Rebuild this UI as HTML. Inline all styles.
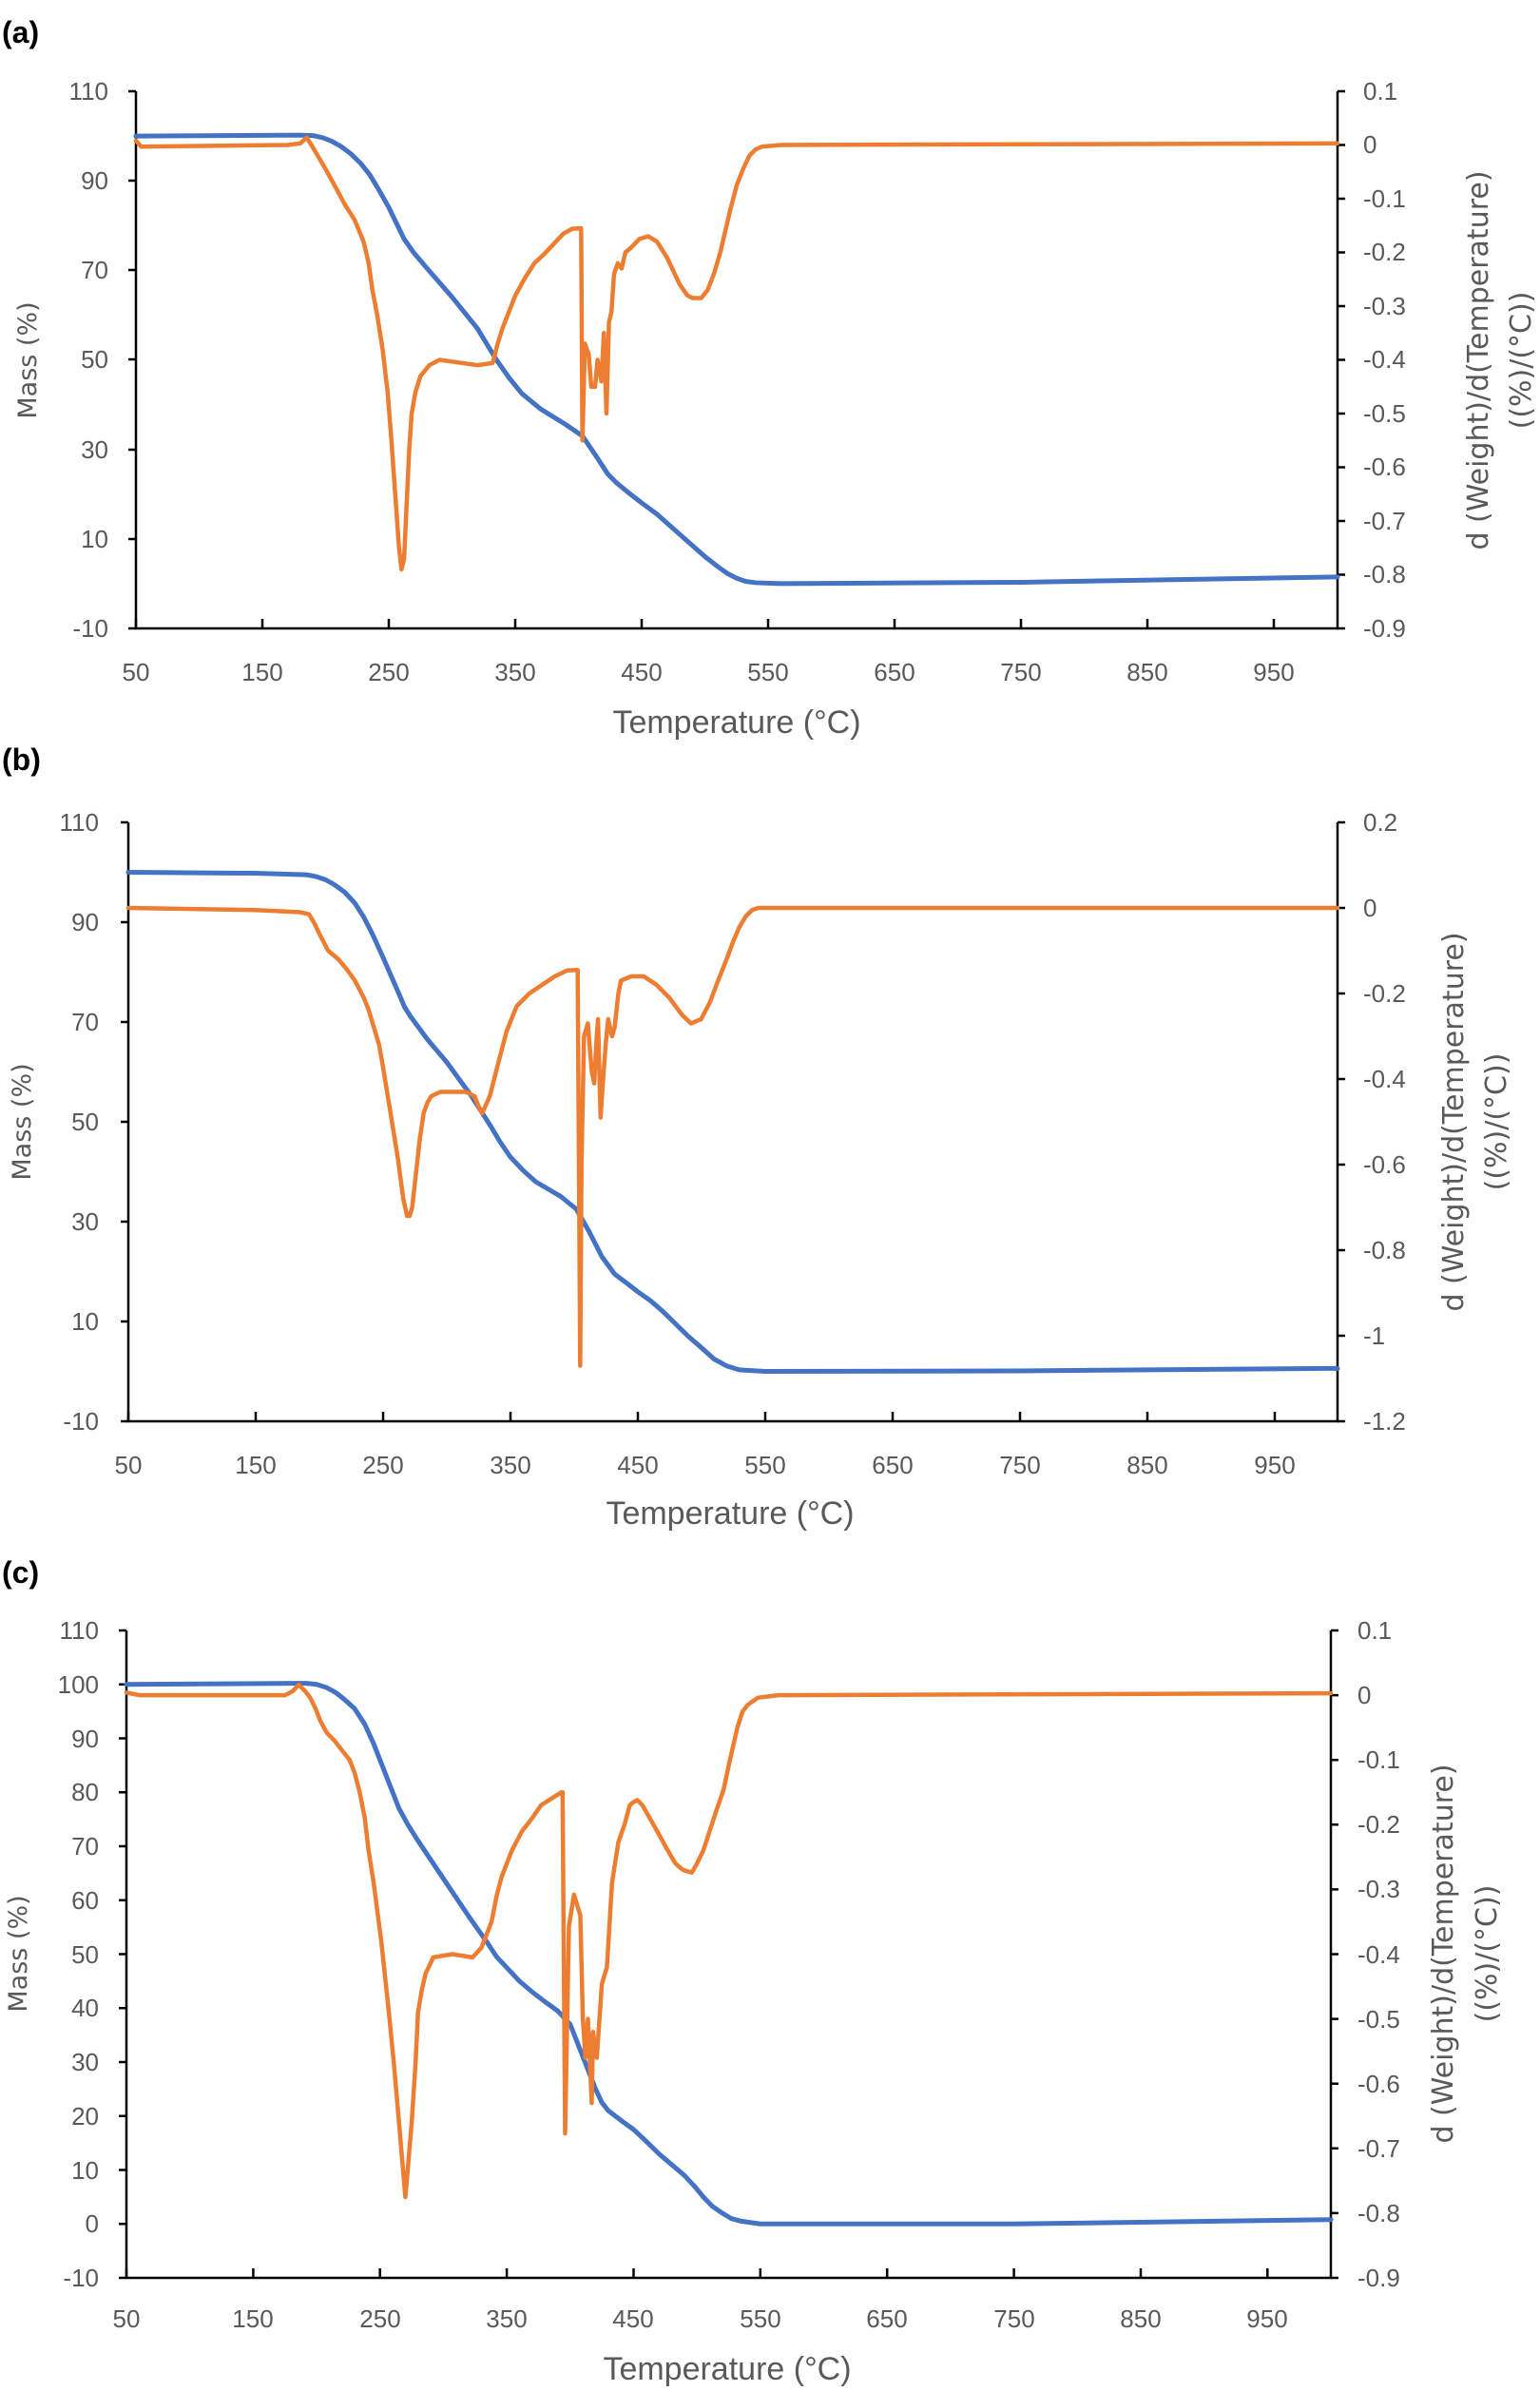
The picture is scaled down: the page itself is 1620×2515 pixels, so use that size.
<!DOCTYPE html>
<html><head><meta charset="utf-8"><style>
html,body{margin:0;padding:0;background:#fff}
svg{display:block}
.t{font-family:"Liberation Sans",sans-serif;font-size:26px;fill:#595959}
.w{font-family:"DejaVu Sans",sans-serif;font-size:27px;fill:#595959}
.r{font-family:"DejaVu Sans",sans-serif;font-size:30px;fill:#595959}
.x{font-family:"Liberation Sans",sans-serif;font-size:34px;fill:#595959}
.p{font-family:"Liberation Sans",sans-serif;font-size:32px;font-weight:bold;fill:#000}
.b{fill:none;stroke:#4472C4;stroke-width:5;stroke-linejoin:round;stroke-linecap:round;vector-effect:non-scaling-stroke}
.o{fill:none;stroke:#ED7D31;stroke-width:4.5;stroke-linejoin:round;stroke-linecap:round;vector-effect:non-scaling-stroke}
.ax{stroke:#000;stroke-width:2.5;fill:none}
</style></head><body>
<svg width="1620" height="2515" xmlns="http://www.w3.org/2000/svg">
<!-- ========== PANEL A ========== -->
<text class="p" x="2" y="45">(a)</text>
<g>
<path class="ax" d="M143 96V661H1407V96"/>
<path class="ax" d="M135 96h8M135 190h8M135 284h8M135 378h8M135 473h8M135 567h8M135 661h8
M1407 96h8M1407 152.5h8M1407 209h8M1407 265.5h8M1407 322h8M1407 378.5h8M1407 435h8M1407 491.5h8M1407 548h8M1407 604.5h8M1407 661h8
M143 661v-10M276 661v-10M409 661v-10M542 661v-10M675 661v-10M808 661v-10M941 661v-10M1074 661v-10M1207 661v-10M1340 661v-10"/>
<g class="t" text-anchor="end">
<text x="114" y="105">110</text><text x="114" y="199">90</text><text x="114" y="293">70</text><text x="114" y="387">50</text><text x="114" y="482">30</text><text x="114" y="576">10</text><text x="114" y="670">-10</text>
</g>
<g class="t" text-anchor="start">
<text x="1434" y="105">0.1</text><text x="1434" y="161">0</text><text x="1434" y="218">-0.1</text><text x="1434" y="274">-0.2</text><text x="1434" y="331">-0.3</text><text x="1434" y="387">-0.4</text><text x="1434" y="444">-0.5</text><text x="1434" y="500">-0.6</text><text x="1434" y="557">-0.7</text><text x="1434" y="613">-0.8</text><text x="1434" y="670">-0.9</text>
</g>
<g class="t" text-anchor="middle">
<text x="143" y="716">50</text><text x="276" y="716">150</text><text x="409" y="716">250</text><text x="542" y="716">350</text><text x="675" y="716">450</text><text x="808" y="716">550</text><text x="941" y="716">650</text><text x="1074" y="716">750</text><text x="1207" y="716">850</text><text x="1340" y="716">950</text>
</g>
<text class="x" x="775" y="771" text-anchor="middle">Temperature (°C)</text>
<text class="w" transform="translate(38,379) rotate(-90)" text-anchor="middle">Mass (%)</text>
<text class="r" transform="translate(1565,379) rotate(-90)" text-anchor="middle">d (Weight)/d(Temperature)</text>
<text class="r" transform="translate(1610,379) rotate(-90)" text-anchor="middle">((%)/(°C))</text>
<g transform="translate(143,96) scale(1.3305,-4.708) translate(-50,-110)">
<polyline class="b" points="50,100 180,100.2 190,100.1 198,99.6 205,98.8 212,97.7 220,96 228,93.8 235,91.3 242,88 250,84 256,80.5 262,77 270,73.8 280,70.5 300,64 320,57 335,50 345,46 355,42.5 370,39 390,35.5 403,33 415,28 423,24.5 430,22.5 440,20.2 450,18 462,15.5 470,13.5 480,11 490,8.5 500,6 510,3.8 518,2.2 525,1.2 532,0.5 540,0.2 560,0 750,0.3 1000,1.5"/>
</g>
<g transform="translate(143,96) scale(1.3305,-5.65) translate(-50,-10)">
<polyline class="o" points="50,0.8 54,-0.3 170,0 180,0.3 185,1.4 190,-0.5 195,-2.5 200,-4.5 207,-7.5 215,-11 223,-14 230,-18 234,-22 237,-27 241,-32 245,-38 249,-46 252,-55 255,-65 258,-75 260,-79 262,-77 264,-67 266,-57 268,-50 271,-46 275,-43 282,-41 290,-40 305,-40.5 320,-41 332,-40.6 336,-37 340,-34 345,-31 350,-28 357,-25 365,-22 372,-20.5 380,-18.5 388,-16.5 395,-15.6 402,-15.5 403,-55 405,-37 408,-39 410,-45 413,-45 415,-40 418,-44 420,-35 422,-50 424,-33 426,-31 428,-24 431,-22 434,-23 437,-20 442,-19 448,-17.5 455,-17 462,-18 470,-21 480,-26 486,-28 490,-28.5 497,-28.5 502,-27 507,-24 512,-20 516,-16 520,-12 525,-7.5 530,-4.5 535,-2 540,-0.8 545,-0.3 560,0 1000,0.3"/>
</g>
</g>

<!-- ========== PANEL B ========== -->
<text class="p" x="2" y="810">(b)</text>
<g>
<path class="ax" d="M135 865V1495H1407V865"/>
<path class="ax" d="M127 865h8M127 970h8M127 1075h8M127 1180h8M127 1285h8M127 1390h8M127 1495h8
M1407 865h8M1407 955h8M1407 1045h8M1407 1135h8M1407 1225h8M1407 1315h8M1407 1405h8M1407 1495h8
M135 1495v-10M269 1495v-10M403 1495v-10M537 1495v-10M671 1495v-10M805 1495v-10M939 1495v-10M1073 1495v-10M1207 1495v-10M1341 1495v-10"/>
<g class="t" text-anchor="end">
<text x="104" y="874">110</text><text x="104" y="979">90</text><text x="104" y="1084">70</text><text x="104" y="1189">50</text><text x="104" y="1294">30</text><text x="104" y="1399">10</text><text x="104" y="1504">-10</text>
</g>
<g class="t" text-anchor="start">
<text x="1434" y="874">0.2</text><text x="1434" y="964">0</text><text x="1434" y="1054">-0.2</text><text x="1434" y="1144">-0.4</text><text x="1434" y="1234">-0.6</text><text x="1434" y="1324">-0.8</text><text x="1434" y="1414">-1</text><text x="1434" y="1504">-1.2</text>
</g>
<g class="t" text-anchor="middle">
<text x="135" y="1550">50</text><text x="269" y="1550">150</text><text x="403" y="1550">250</text><text x="537" y="1550">350</text><text x="671" y="1550">450</text><text x="805" y="1550">550</text><text x="939" y="1550">650</text><text x="1073" y="1550">750</text><text x="1207" y="1550">850</text><text x="1341" y="1550">950</text>
</g>
<text class="x" x="768" y="1603" text-anchor="middle">Temperature (°C)</text>
<text class="w" transform="translate(32,1180) rotate(-90)" text-anchor="middle">Mass (%)</text>
<text class="r" transform="translate(1539,1180) rotate(-90)" text-anchor="middle">d (Weight)/d(Temperature)</text>
<text class="r" transform="translate(1584,1180) rotate(-90)" text-anchor="middle">((%)/(°C))</text>
<g transform="translate(135,865) scale(1.339,-5.25) translate(-50,-110)">
<polyline class="b" points="50,100 150,99.8 190,99.5 198,99.1 205,98.5 212,97.5 220,96 228,93.8 235,91 242,87.5 250,83 256,79.5 262,76 267,73 272,71 285,66.5 300,62 320,55 335,49 342,46 350,43 360,40.3 370,38 380,36.5 390,35 402,32.5 412,28 422,23 432,19.5 442,17.6 450,16 460,14.2 470,12 480,9.5 490,7 500,4.8 510,2.5 520,1.1 530,0.3 550,0 750,0.1 1000,0.6"/>
</g>
<g transform="translate(135,865) scale(1.339,-4.5) translate(-50,-20)">
<polyline class="o" points="50,0 150,-0.5 185,-1 192,-1.5 196,-3.5 200,-6 207,-10 215,-12 222,-14.5 228,-17 235,-21 239,-24 243,-28 247,-32 250,-37 256,-48 262,-59 266,-68 269,-72 271,-72 273,-70 276,-62 279,-54 282,-48 285,-45.5 288,-44 295,-43 315,-43 322,-44 326,-47 328,-48 334,-44 340,-37 347,-29 351,-26 355,-23 365,-20 375,-18 385,-16 395,-14.6 403,-14.5 404,-60 405,-107 406,-60 408,-30 411,-27 414,-38 416,-41 418,-30 419,-26 421,-49 423,-40 425,-32 427,-26 430,-30 432,-28 435,-20 437,-17 445,-16 455,-16 465,-18 475,-21 485,-25 492,-27 500,-26 507,-22 512,-18 520,-12 525,-8 530,-4.5 535,-2 540,-0.5 545,0 1000,0"/>
</g>
</g>

<!-- ========== PANEL C ========== -->
<text class="p" x="2" y="1665">(c)</text>
<g>
<path class="ax" d="M133 1715V2396H1400V1715"/>
<path class="ax" d="M125 1715h8M125 1771.75h8M125 1828.5h8M125 1885.25h8M125 1942h8M125 1998.75h8M125 2055.5h8M125 2112.25h8M125 2169h8M125 2225.75h8M125 2282.5h8M125 2339.25h8M125 2396h8
M1400 1715h8M1400 1783.1h8M1400 1851.2h8M1400 1919.3h8M1400 1987.4h8M1400 2055.5h8M1400 2123.6h8M1400 2191.7h8M1400 2259.8h8M1400 2327.9h8M1400 2396h8
M133 2396v-10M266.4 2396v-10M399.7 2396v-10M533.1 2396v-10M666.5 2396v-10M799.8 2396v-10M933.2 2396v-10M1066.6 2396v-10M1200 2396v-10M1333.3 2396v-10"/>
<g class="t" text-anchor="end">
<text x="104" y="1724">110</text><text x="104" y="1781">100</text><text x="104" y="1838">90</text><text x="104" y="1894">80</text><text x="104" y="1951">70</text><text x="104" y="2008">60</text><text x="104" y="2065">50</text><text x="104" y="2121">40</text><text x="104" y="2178">30</text><text x="104" y="2235">20</text><text x="104" y="2292">10</text><text x="104" y="2348">0</text><text x="104" y="2405">-10</text>
</g>
<g class="t" text-anchor="start">
<text x="1428" y="1724">0.1</text><text x="1428" y="1792">0</text><text x="1428" y="1860">-0.1</text><text x="1428" y="1928">-0.2</text><text x="1428" y="1996">-0.3</text><text x="1428" y="2065">-0.4</text><text x="1428" y="2133">-0.5</text><text x="1428" y="2201">-0.6</text><text x="1428" y="2269">-0.7</text><text x="1428" y="2337">-0.8</text><text x="1428" y="2405">-0.9</text>
</g>
<g class="t" text-anchor="middle">
<text x="133" y="2448">50</text><text x="266" y="2448">150</text><text x="400" y="2448">250</text><text x="533" y="2448">350</text><text x="666" y="2448">450</text><text x="800" y="2448">550</text><text x="933" y="2448">650</text><text x="1067" y="2448">750</text><text x="1200" y="2448">850</text><text x="1333" y="2448">950</text>
</g>
<text class="x" x="765" y="2503" text-anchor="middle">Temperature (°C)</text>
<text class="w" transform="translate(28,2055) rotate(-90)" text-anchor="middle">Mass (%)</text>
<text class="r" transform="translate(1528,2055) rotate(-90)" text-anchor="middle">d (Weight)/d(Temperature)</text>
<text class="r" transform="translate(1574,2055) rotate(-90)" text-anchor="middle">((%)/(°C))</text>
<g transform="translate(133,1715) scale(1.3337,-5.675) translate(-50,-110)">
<polyline class="b" points="50,100 185,100.2 192,100.2 200,100 208,99.4 215,98.5 222,97.2 230,95.5 238,92.6 245,89 250,86 255,83 260,80 265,77 272,74 280,71 300,64 320,57 335,52 342,49.5 350,47.5 360,45 370,43 380,41.2 390,39.5 400,37 410,31 420,25 425,22.5 430,21 440,19.2 450,17.5 460,15.3 470,13 480,11 490,9 498,7 505,5 512,3.3 520,2 527,1 535,0.5 550,0 750,0 1000,0.8"/>
</g>
<g transform="translate(133,1715) scale(1.3337,-6.81) translate(-50,-10)">
<polyline class="o" points="50,0.4 60,0 175,0 181,0.6 186,1.6 191,0.6 195,-0.4 199,-2 203,-4 208,-5.8 214,-7 220,-8.5 226,-10 230,-12 234,-15 238,-19 241,-24 245,-29 251,-38 257,-49 261,-57 265,-66 268,-73 270,-77.5 272,-73 275,-66 278,-57 280,-49 283,-45.5 286,-43 292,-40.5 307,-40 323,-40.5 330,-39 334,-37 338,-35 342,-31 346,-28 354,-24 362,-21 370,-19 377,-17 385,-16 393,-15 394,-15 396,-67.7 399,-35.7 403,-30.8 408,-34 410,-50 412,-56 414,-50 417,-63 418,-52 421,-56 425,-44.6 429,-42 433,-29 438,-22.7 443,-19.9 447,-17 450,-16.5 453,-16.2 457,-17 462,-18.7 470,-21.5 477,-24 483,-26 489,-27 496,-27.4 500,-26 505,-24 510,-21 515,-18 521,-14.6 526,-10 532,-4.9 536,-2.5 540,-1.5 548,-0.4 564,0 1000,0.3"/>
</g>
</g>
</svg>
</body></html>
